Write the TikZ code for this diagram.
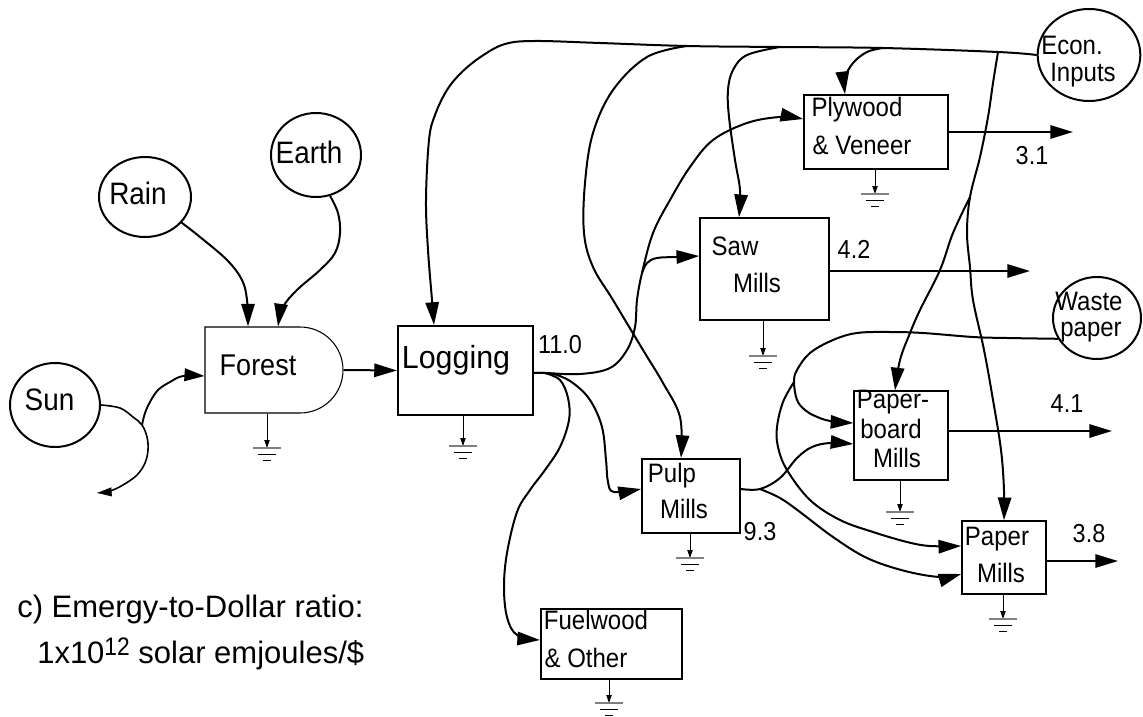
\documentclass[tikz,border=0pt]{standalone}
\usepackage{fontspec}
\setmainfont{Liberation Sans}
\newfontfamily\cnd[FakeStretch=0.9]{Liberation Sans}
\newfontfamily\cndb[FakeStretch=0.95]{Liberation Sans}
\usetikzlibrary{arrows.meta,shapes.geometric,shapes.misc}
\begin{document}
\begin{tikzpicture}[x=0.75pt,y=-0.75pt,
  flowarrow/.style={line width=1.5pt,-{Triangle[length=17pt,width=10pt]}},
  flowplain/.style={line width=1.5pt},
  sunarrow/.style={line width=1.2pt,-{Triangle[length=11pt,width=6.5pt]}},
  sunin/.style={line width=1.4pt,-{Triangle[length=15pt,width=9.5pt]}},
  gndarrow/.style={line width=0.6pt,-{Triangle[length=6pt,width=4pt]}},
  boxstyle/.style={draw,rectangle,line width=1.2pt,inner sep=0pt},
  srcstyle/.style={draw,ellipse,line width=1.5pt,inner sep=0pt},
  srclbl/.style={font=\cnd\fontsize{23.25}{26}\selectfont,inner sep=0pt,anchor=base},
  boxlbl/.style={font=\cnd\fontsize{20}{22}\selectfont,inner sep=0pt,anchor=base},
  numlbl/.style={font=\cnd\fontsize{19.5}{22}\selectfont,inner sep=0pt,anchor=base},
  pics/earthsym/.style={code={
    \draw[line width=0.8pt,gray] (-14,0) -- (14,0);
    \draw[line width=0.6pt] (-9,6) -- (9,6);
    \draw[line width=0.6pt] (-4,12) -- (4,12);
  }}
]
\fill[white] (0,0) rectangle (1143,717);
\useasboundingbox (0,0) rectangle (1143,717);

% sources
\node[srcstyle,minimum width=67.5pt,minimum height=63pt] (sun) at (55,405) {};
\node[srcstyle,minimum width=69pt,minimum height=60pt] (rain) at (145,197) {};
\node[srcstyle,minimum width=67.5pt,minimum height=63pt] (earth) at (316,155) {};
\node[srcstyle,minimum width=77pt,minimum height=69pt] (econ) at (1089,55) {};
\node[srcstyle,minimum width=66pt,minimum height=61.5pt] (waste) at (1097,318) {};

% boxes
\node[draw,rounded rectangle,rounded rectangle left arc=none,line width=0.8pt,inner sep=0pt,minimum width=103.5pt,minimum height=64.5pt] (forest) at (274,370) {};
\node[boxstyle,line width=1.6pt,minimum width=101.25pt,minimum height=66.75pt] (logging) at (465.5,370.5) {};
\node[boxstyle,minimum width=108pt,minimum height=55.5pt] (plywood) at (876,132) {};
\node[boxstyle,minimum width=96.75pt,minimum height=76.5pt] (saw) at (764.5,269) {};
\node[boxstyle,line width=1.5pt,minimum width=73.5pt,minimum height=55.5pt] (pulp) at (691,496) {};
\node[boxstyle,line width=1.5pt,minimum width=105.75pt,minimum height=52.5pt] (fuelwood) at (611.5,644) {};
\node[boxstyle,line width=1pt,minimum width=70.5pt,minimum height=66.75pt] (paperboard) at (901,435.5) {};
\node[boxstyle,minimum width=63pt,minimum height=54.75pt] (papermills) at (1004,557.5) {};

% labels
\node[srclbl] (sunT) at (49.5,410) {Sun};
\node[srclbl] (rainT) at (138,204) {Rain};
\node[srclbl] (earthT) at (309,163) {Earth};
\node[font=\cnd\fontsize{22.5}{25}\selectfont,inner sep=0pt,anchor=base] (forestT) at (258,375) {Forest};
\node[font=\cndb\fontsize{24}{27}\selectfont,inner sep=0pt,anchor=base] (loggingT) at (456,368) {Logging};
\node[numlbl] (n110) at (560,353) {11.0};
\node[boxlbl] (plyT1) at (857,117) {Plywood};
\node[boxlbl] (plyT2) at (862,154) {\& Veneer};
\node[numlbl] (n31) at (1032,164) {3.1};
\node[boxlbl] (sawT1) at (735,255) {Saw};
\node[boxlbl] (sawT2) at (757,292) {Mills};
\node[numlbl] (n42) at (854,258) {4.2};
\node[boxlbl] (econT1) at (1072,55) {Econ.};
\node[boxlbl] (econT2) at (1083,82) {Inputs};
\node[boxlbl] (wasteT1) at (1089,310) {Waste};
\node[boxlbl] (wasteT2) at (1091,336) {paper};
\node[boxlbl] (pbT1) at (893,408) {Paper-};
\node[boxlbl] (pbT2) at (891,438) {board};
\node[boxlbl] (pbT3) at (897,467) {Mills};
\node[numlbl] (n41) at (1067,412) {4.1};
\node[boxlbl] (pulpT1) at (672,482) {Pulp};
\node[boxlbl] (pulpT2) at (684,518) {Mills};
\node[numlbl] (n93) at (760,540) {9.3};
\node[boxlbl] (fuelT1) at (596,629) {Fuelwood};
\node[boxlbl] (fuelT2) at (586,667) {\& Other};
\node[boxlbl] (pmT1) at (997,545) {Paper};
\node[boxlbl] (pmT2) at (1001,582) {Mills};
\node[numlbl] (n38) at (1089,542) {3.8};

\node[font=\fontsize{23.25}{26}\selectfont,inner sep=0pt,anchor=base west] (cap1) at (17,617) {c) Emergy-to-Dollar ratio:};
\node[font=\fontsize{23.25}{26}\selectfont,inner sep=0pt,anchor=base west] (cap2) at (37,663) {1x10\raisebox{6pt}{\cnd\fontsize{19}{21}\selectfont 12} solar emjoules/\$};

% junctions
\coordinate (sunj) at (142,425);
\coordinate (sunsink) at (97,493);
\coordinate (logj) at (545,373);
\coordinate (sawj) at (642,273);
\coordinate (pulpj) at (760,489);
\coordinate (wj) at (794,382);
\coordinate (econA) at (998,52);
\coordinate (econP) at (883,48);
\coordinate (econS) at (780,47);
\coordinate (econPu) at (687,46);
\coordinate (ej2) at (970,197);

% sun
\draw[sunarrow] plot[smooth,tension=0.6] coordinates {(sun.east) (120,408) (133,417) (sunj) (147,437) (148,450) (145,463) (137,475) (123,485) (110,491) (sunsink)};
\draw[sunin] plot[smooth,tension=0.6] coordinates {(sunj) (145,413) (150,402) (158,390) (170,382) (183,376) (forest.west |- 0,376)};

% rain, earth
\draw[flowarrow] plot[smooth,tension=0.6] coordinates {(rain.-35) (200,237) (227,260) (242,280) (247,300) (forest.north -| 248,0)};
\draw[flowarrow] plot[smooth,tension=0.6] coordinates {(earth.-71) (338,213) (340,233) (335,253) (320,270) (297,290) (283,307) (forest.north -| 278,0)};

% forest -> logging
\draw[flowarrow] (forest.east) -- (logging.west);

% econ main line -> logging
\draw[flowarrow] plot[smooth,tension=0.6] coordinates {(econ.west) (econA) (econP) (econS) (econPu) (600,43) (535,41) (505,44) (482,56) (462,72) (447,90) (435,115) (429,140) (426,200) (428,250) (432,300) (logging.north -| 434,0)};
\draw[flowarrow] plot[smooth,tension=0.6] coordinates {(econP) (867,52) (853,63) (845,78) (plywood.north -| 845,0)};
\draw[flowarrow] plot[smooth,tension=0.6] coordinates {(econS) (747,55) (733,70) (728,90) (729,117) (735,160) (740,190) (saw.north -| 739,0)};
\draw[flowarrow] plot[smooth,tension=0.6] coordinates {(econPu) (647,57) (613,90) (593,133) (585,183) (584,233) (593,267) (613,300) (643,350) (663,383) (680,417) (pulp.north -| 681,0)};
\draw[flowarrow] plot[smooth,tension=0.6] coordinates {(econA) (993,83) (988,117) (980,157) (ej2) (967,233) (970,267) (973,300) (984,350) (993,400) (1001,450) (1004,490) (papermills.north)};
\draw[flowarrow] plot[smooth,tension=0.6] coordinates {(ej2) (953,233) (940,270) (920,310) (910,333) (900,360) (paperboard.north -| 895,0)};

% logging outputs
\draw[flowarrow] plot[smooth,tension=0.6] coordinates {(logging.east |- logj) (logj) (580,374) (610,368) (627,350) (635,327) (637,300) (sawj) (653,233) (670,200) (690,167) (713,140) (747,123) (780,117) (plywood.west |- 0,119)};
\draw[flowarrow] plot[smooth,tension=0.6] coordinates {(sawj) (647,263) (657,258) (677,257) (saw.west |- 0,256)};
\draw[flowarrow] plot[smooth,tension=0.6] coordinates {(logging.east |- logj) (logj) (557,375) (573,383) (590,400) (602,427) (606,460) (608,482) (614,492) (pulp.west |- 0,489)};
\draw[flowarrow] plot[smooth,tension=0.6] coordinates {(logj) (560,380) (568,398) (569,420) (560,447) (545,470) (530,490) (517,512) (507,553) (504,587) (507,617) (517,635) (fuelwood.west |- 0,640)};

% pulp outputs
\draw[flowarrow] plot[smooth,tension=0.6] coordinates {(pulp.east |- pulpj) (pulpj) (780,478) (797,458) (812,447) (830,443) (paperboard.west |- 0,444)};
\draw[flowarrow] plot[smooth,tension=0.6] coordinates {(pulpj) (780,498) (800,512) (833,537) (867,558) (905,571) (940,577) (papermills.west |- 0,574)};

% waste paper
\draw[flowarrow] plot[smooth,tension=0.6] coordinates {(waste.208) (1007,338) (973,337) (923,333) (890,332) (857,333) (833,340) (810,353) (797,370) (wj) (797,400) (805,410) (815,416) (830,421) (paperboard.west |- 0,423)};
\draw[flowarrow] plot[smooth,tension=0.6] coordinates {(wj) (783,402) (777,427) (778,447) (787,470) (810,500) (840,520) (873,532) (907,542) (930,546) (papermills.west |- 0,546)};

% product outputs
\coordinate (plyout) at (1073,132);
\coordinate (sawout) at (1030,271);
\coordinate (pbout) at (1112,431);
\coordinate (pmout) at (1118,561);
\draw[flowarrow] (plywood.east |- plyout) -- (plyout);
\draw[flowarrow] (saw.east |- sawout) -- (sawout);
\draw[flowarrow] (paperboard.east |- pbout) -- (pbout);
\draw[flowarrow] (papermills.east |- pmout) -- (pmout);

% ground symbols
\draw[gndarrow] (forest.south -| 267,0) -- (267,448); \pic at (267,448) {earthsym};
\draw[gndarrow] (logging.south -| 463,0) -- (463,446); \pic at (463,446) {earthsym};
\draw[gndarrow] (pulp.south -| 690,0) -- (690,558); \pic at (690,558) {earthsym};
\draw[gndarrow] (fuelwood.south -| 609,0) -- (609,703); \pic at (609,703) {earthsym};
\draw[gndarrow] (plywood.south -| 875,0) -- (875,194); \pic at (875,194) {earthsym};
\draw[gndarrow] (saw.south -| 763,0) -- (763,356); \pic at (763,356) {earthsym};
\draw[gndarrow] (paperboard.south -| 900,0) -- (900,512); \pic at (900,512) {earthsym};
\draw[gndarrow] (papermills.south -| 1003,0) -- (1003,619); \pic at (1003,619) {earthsym};
\end{tikzpicture}
\end{document}
